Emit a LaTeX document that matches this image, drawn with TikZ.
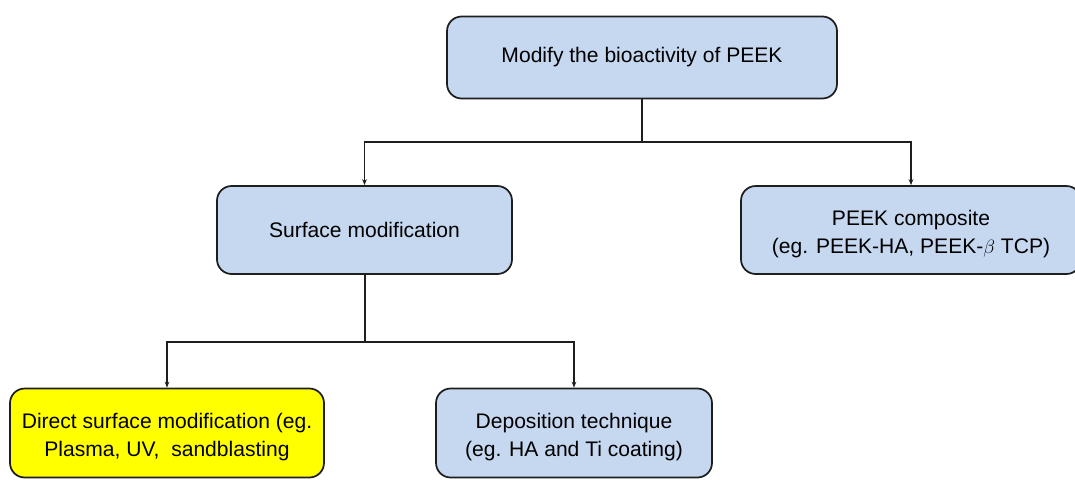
\documentclass[tikz,border=0pt]{standalone}
\usepackage{fontspec}
\setmainfont{Liberation Sans}
\usetikzlibrary{arrows.meta}
\definecolor{boxblue}{RGB}{198,216,240}
\definecolor{boxyellow}{RGB}{255,255,0}
\definecolor{edge}{RGB}{30,30,30}
\newcommand{\lowstrut}{\rule{0pt}{17.5pt}}
\begin{document}
\begin{tikzpicture}[x=0.75pt,y=-0.75pt,
  box/.style={draw=edge,line width=1.3pt,rounded corners=11pt,fill=boxblue,
    align=center,inner sep=0pt,font=\fontsize{15.8}{20.3}\selectfont},
  ybox/.style={box,fill=boxyellow},
  conn/.style={draw=edge,line width=1.1pt},
  arr/.style={conn,-{Stealth[length=4.5pt,width=3.5pt]}}]
\useasboundingbox (0,0) rectangle (1075,479);
\clip (0,0) rectangle (1075,479);
\node[box,minimum width=292.5pt,minimum height=61.5pt] (top) at (642,57.5) {Modify the bioactivity of PEEK};
\node[box,minimum width=221.25pt,minimum height=66pt] (surf) at (364.5,230) {Surface modification};
\node[box,minimum width=255pt,minimum height=66pt] (comp) at (911,230) {\lowstrut PEEK composite\\(eg. PEEK-HA, PEEK-$\beta$ TCP)};
\node[ybox,minimum width=235.5pt,minimum height=66.75pt] (direct) at (167,433) {\lowstrut Direct surface modification (eg.\\Plasma, UV,\ \ sandblasting};
\node[box,minimum width=207pt,minimum height=66.75pt] (depo) at (574,433) {\lowstrut Deposition technique\\(eg. HA and Ti coating)};
\coordinate (j1) at (642,142);
\coordinate (j2) at (365,342);
\draw[conn] (top.south) -- (top.south |- j1);
\draw[arr] (top.south |- j1) -| (surf.north);
\draw[arr] (top.south |- j1) -| (comp.north);
\draw[conn] (surf.south -| j2) -- (j2);
\draw[arr] (j2) -| (direct.north);
\draw[arr] (j2) -| (depo.north);
\end{tikzpicture}
\end{document}
